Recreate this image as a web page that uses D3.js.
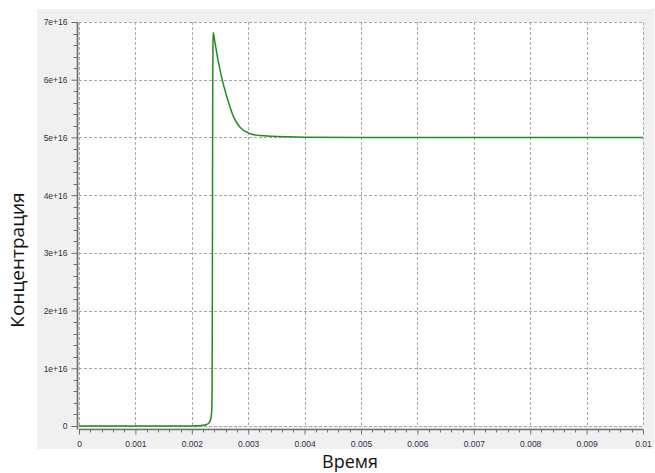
<!DOCTYPE html>
<html>
<head>
<meta charset="utf-8">
<script src="https://cdn.jsdelivr.net/npm/d3@7/dist/d3.min.js"></script>
<style>
  html, body { margin: 0; padding: 0; background: #ffffff; }
  svg { display: block; }
</style>
</head>
<body>
<svg id="chart" width="655" height="473"></svg>
<script>
// ---- data ----
const timeValues = [0, 0.0005, 0.001, 0.0015, 0.002, 0.0021, 0.0022, 0.00226, 0.0023, 0.00233, 0.002353, 0.00236, 0.002365, 0.00237, 0.002375, 0.00238, 0.00241, 0.00245, 0.0025, 0.00256, 0.00262, 0.00268, 0.00274, 0.0028, 0.00286, 0.00292, 0.00298, 0.00305, 0.00315, 0.00333, 0.0035, 0.0037, 0.004, 0.005, 0.006, 0.007, 0.008, 0.009, 0.01];
const concentrationValues = [0, 0, 0, 0, 0.001e16, 0.004e16, 0.012e16, 0.025e16, 0.05e16, 0.1e16, 0.25e16, 0.7e16, 2.5e16, 5.5e16, 6.6e16, 6.82e16, 6.65e16, 6.42e16, 6.17e16, 5.92e16, 5.71e16, 5.52e16, 5.36e16, 5.25e16, 5.17e16, 5.12e16, 5.09e16, 5.06e16, 5.04e16, 5.025e16, 5.015e16, 5.01e16, 5.005e16, 5.0e16, 5.0e16, 5.0e16, 5.0e16, 5.0e16, 5.0e16];
const xTickValues = [0, 0.001, 0.002, 0.003, 0.004, 0.005, 0.006, 0.007, 0.008, 0.009, 0.01];
const xTickLabels = ["0", "0.001", "0.002", "0.003", "0.004", "0.005", "0.006", "0.007", "0.008", "0.009", "0.01"];
const yTickValues = [0, 1e16, 2e16, 3e16, 4e16, 5e16, 6e16, 7e16];
const yTickLabels = ["0", "1e+16", "2e+16", "3e+16", "4e+16", "5e+16", "6e+16", "7e+16"];
const xAxisTitle = "Время";
const yAxisTitle = "Концентрация";

// ---- layout ----
const svg = d3.select("#chart");
const plot = { left: 79, right: 643, top: 22, bottom: 426 };

const x = d3.scaleLinear().domain([0, 0.01]).range([plot.left, plot.right]);
const y = d3.scaleLinear().domain([0, 7e16]).range([plot.bottom, plot.top]);

// grey panel
svg.append("rect").attr("x", 37).attr("y", 9).attr("width", 617).attr("height", 440).attr("fill", "#f0f0f0");
// plot area
svg.append("rect").attr("x", plot.left).attr("y", plot.top)
  .attr("width", plot.right - plot.left).attr("height", plot.bottom - plot.top).attr("fill", "#ffffff");

// grid
const grid = svg.append("g").attr("stroke", "#a8a8a8").attr("stroke-width", 1).attr("stroke-dasharray", "3,2").attr("fill", "none");
xTickValues.forEach(v => {
  const px = Math.round(x(v)) + 0.5;
  grid.append("line").attr("x1", px).attr("x2", px).attr("y1", plot.top).attr("y2", plot.bottom);
});
yTickValues.forEach(v => {
  const py = Math.round(y(v)) + 0.5;
  grid.append("line").attr("x1", plot.left).attr("x2", plot.right).attr("y1", py).attr("y2", py);
});

// minor tick values
const xMinor = d3.range(0, 51).map(i => i * 0.0002).filter((v, i) => i % 5 !== 0);
const yMinor = d3.range(0, 36).map(i => i * 0.2e16).filter((v, i) => i % 5 !== 0);

// x axis
const axisColor = "#6e6e6e";
const xAxisY = 429.5;
const xAxisG = svg.append("g").attr("transform", `translate(0,${xAxisY})`)
  .call(d3.axisBottom(x).tickValues(xTickValues).tickFormat((d, i) => xTickLabels[i]).tickSize(5).tickPadding(6));
xAxisG.append("g").selectAll("line").data(xMinor).join("line")
  .attr("x1", d => Math.round(x(d)) + 0.5).attr("x2", d => Math.round(x(d)) + 0.5)
  .attr("y1", 0).attr("y2", 3);
xAxisG.select(".domain").attr("d", `M${plot.left},0H${plot.right}`).attr("stroke-width", 1.6);

// y axis
const yAxisX = 77.5;
const yAxisG = svg.append("g").attr("transform", `translate(${yAxisX},0)`)
  .call(d3.axisLeft(y).tickValues(yTickValues).tickFormat((d, i) => yTickLabels[i]).tickSize(6).tickPadding(4));
yAxisG.append("g").selectAll("line").data(yMinor).join("line")
  .attr("x1", 0).attr("x2", -4)
  .attr("y1", d => Math.round(y(d)) + 0.5).attr("y2", d => Math.round(y(d)) + 0.5);
yAxisG.select(".domain").attr("d", `M0,${plot.top}V${xAxisY}`).attr("stroke-width", 1.6);

[xAxisG, yAxisG].forEach(g => {
  g.selectAll("line").attr("stroke", axisColor);
  g.select(".domain").attr("stroke", axisColor);
  g.selectAll("text").attr("fill", "#2f3147").attr("font-family", "'Liberation Sans', Arial, sans-serif").attr("font-size", 8.5);
});
yAxisG.selectAll(".tick text").attr("dy", "0.34em");

// curve
const line = d3.line().x((d, i) => x(timeValues[i])).y(d => y(d)).curve(d3.curveMonotoneX);
svg.append("path").datum(concentrationValues)
  .attr("d", line).attr("fill", "none").attr("stroke", "#1e8c1e").attr("stroke-width", 1.5);

// titles
svg.append("text").attr("x", 350).attr("y", 468).attr("text-anchor", "middle")
  .attr("font-family", "'Open Sans', sans-serif").attr("font-size", 18).attr("fill", "#111").text(xAxisTitle);
svg.append("text").attr("transform", "translate(24,260) rotate(-90)").attr("text-anchor", "middle")
  .attr("font-family", "'Open Sans', sans-serif").attr("font-size", 19).attr("fill", "#111").text(yAxisTitle);
</script>
</body>
</html>
